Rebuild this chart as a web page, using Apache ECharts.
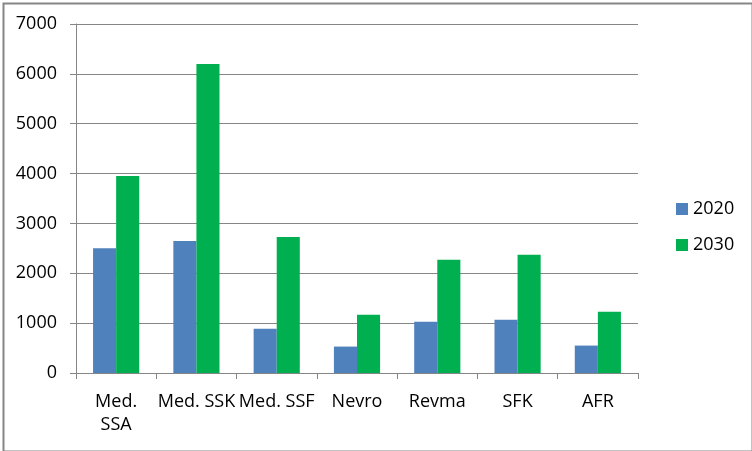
<!DOCTYPE html>
<html>
<head>
<meta charset="utf-8">
<script src="https://cdn.jsdelivr.net/npm/echarts@6/dist/echarts.min.js"></script>
<style>html,body{margin:0;padding:0;background:#fff}#c{width:752px;height:451px}</style>
</head>
<body>
<div id="c"></div>
<script>
var categories = ["Med. SSA", "Med. SSK", "Med. SSF", "Nevro", "Revma", "SFK", "AFR"];
var seriesNames = ["2020", "2030"];
var values2020 = [2500, 2650, 890, 530, 1030, 1070, 550];
var values2030 = [3950, 6200, 2730, 1170, 2270, 2370, 1230];
var yTicks = [0, 1000, 2000, 3000, 4000, 5000, 6000, 7000];

var font = "'Open Sans', 'Liberation Sans', Arial, sans-serif";
var chart = echarts.init(document.getElementById('c'), null, {renderer: 'canvas'});
chart.setOption({
  animation: false,
  backgroundColor: '#fff',
  graphic: [{
    type: 'rect', left: 1, top: 1,
    shape: {x: 0, y: 0, width: 749, height: 448},
    style: {fill: 'none', stroke: '#868686', lineWidth: 2},
    silent: true, z: 100
  }],
  grid: {left: 76, right: 114, top: 24, bottom: 78, containLabel: false},
  legend: {
    orient: 'vertical', left: 671, top: 195,
    itemWidth: 12, itemHeight: 12, itemGap: 18,
    icon: 'rect',
    textStyle: {fontFamily: font, fontSize: 18, color: '#000', padding: [0, 0, 0, 0]},
    data: seriesNames
  },
  xAxis: {
    type: 'category',
    data: categories,
    axisLine: {lineStyle: {color: '#868686', width: 1}},
    axisTick: {show: true, alignWithLabel: false, length: 6, lineStyle: {color: '#868686'}},
    axisLabel: {
      interval: 0, color: '#000', fontFamily: font, fontSize: 18, margin: 17, lineHeight: 23,
      formatter: function (v) { return v === 'Med. SSA' ? 'Med.\nSSA' : v; }
    }
  },
  yAxis: {
    type: 'value', min: yTicks[0], max: yTicks[yTicks.length - 1], interval: 1000,
    axisLine: {show: true, lineStyle: {color: '#868686', width: 1}},
    axisTick: {show: true, length: 6, lineStyle: {color: '#868686'}},
    splitLine: {lineStyle: {color: '#868686', width: 1}},
    axisLabel: {color: '#000', fontFamily: font, fontSize: 18, margin: 19,
      formatter: function (v) { return String(v); }}
  },
  series: [
    {name: seriesNames[0], type: 'bar', data: values2020, barGap: '0%', barCategoryGap: '42.5%',
     itemStyle: {color: '#4F81BD'}},
    {name: seriesNames[1], type: 'bar', data: values2030, barGap: '0%', barCategoryGap: '42.5%',
     itemStyle: {color: '#00B050'}}
  ]
});
</script>
</body>
</html>
